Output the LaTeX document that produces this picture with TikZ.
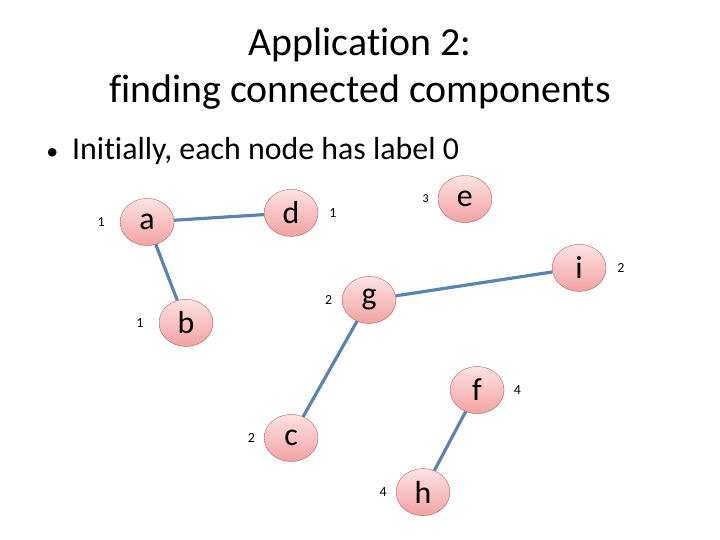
\documentclass[tikz,border=0pt]{standalone}
\usepackage{fontspec}
\setmainfont[Ligatures=NoCommon]{Carlito}
\usepackage{tikz}
\usetikzlibrary{shapes.geometric,positioning,shadows}
\usepackage{xcolor}
\definecolor{NodeTop}{HTML}{FDE2E2}
\definecolor{NodeBottom}{HTML}{F2A2A2}
\definecolor{NodeBorder}{HTML}{B86060}
\definecolor{EdgeBlue}{HTML}{5A82B2}

\begin{document}
\begin{tikzpicture}[
    vertex/.style={ellipse, draw=NodeBorder, top color=NodeTop, bottom color=NodeBottom, minimum width=1.9cm, minimum height=1.66cm, inner sep=0pt, font=\fontsize{32}{32}\selectfont, drop shadow={opacity=0.12, shadow xshift=0.5pt, shadow yshift=-0.8pt}},
    edge/.style={draw=EdgeBlue, line width=3.2pt},
    num/.style={font=\fontsize{14}{14}\selectfont, inner sep=1pt}
  ]
    \useasboundingbox (0, 0) rectangle (25.4, -19.05);

    \node[align=center, font=\fontsize{40}{47}\selectfont] (title) at (12.7, -2.42) {Application 2:\\finding connected components};
    \node[anchor=base, font=\fontsize{24}{24}\selectfont] (dot) at (1.85, -5.64) {\textbullet};
    \node[anchor=base west, inner sep=0pt, font=\fontsize{32}{32}\selectfont] (intro) at (2.54, -5.64) {Initially, each node has label 0};

    \node[vertex] (a) at (5.19, -7.83) {a};
    \node[vertex] (d) at (10.27, -7.51) {d};
    \node[vertex] (b) at (6.56, -11.39) {b};
    \node[vertex] (e) at (16.40, -7.02) {e};
    \node[vertex] (i) at (20.43, -9.45) {i};
    \node[vertex] (g) at (13.02, -10.58) {g};
    \node[vertex] (c) at (10.27, -15.45) {c};
    \node[vertex] (f) at (16.83, -13.76) {f};
    \node[vertex] (h) at (14.92, -17.36) {h};

    \node[num, left=0.5cm of a] (a-lbl) {1};
    \node[num, right=0.35cm of d] (d-lbl) {1};
    \node[num, left=0.5cm of b] (b-lbl) {1};
    \node[num, left=0.28cm of e, font=\fontsize{12}{12}\selectfont] (e-lbl) {3};
    \node[num, right=0.35cm of i] (i-lbl) {2};
    \node[num, left=0.3cm of g] (g-lbl) {2};
    \node[num, left=0.28cm of c] (c-lbl) {2};
    \node[num, right=0.3cm of f] (f-lbl) {4};
    \node[num, left=0.28cm of h] (h-lbl) {4};

    \draw[edge] (a) -- (d);
    \draw[edge] (a) -- (b);
    \draw[edge] (g) -- (i);
    \draw[edge] (g) -- (c);
    \draw[edge] (f) -- (h);
  \end{tikzpicture}
\end{document}
